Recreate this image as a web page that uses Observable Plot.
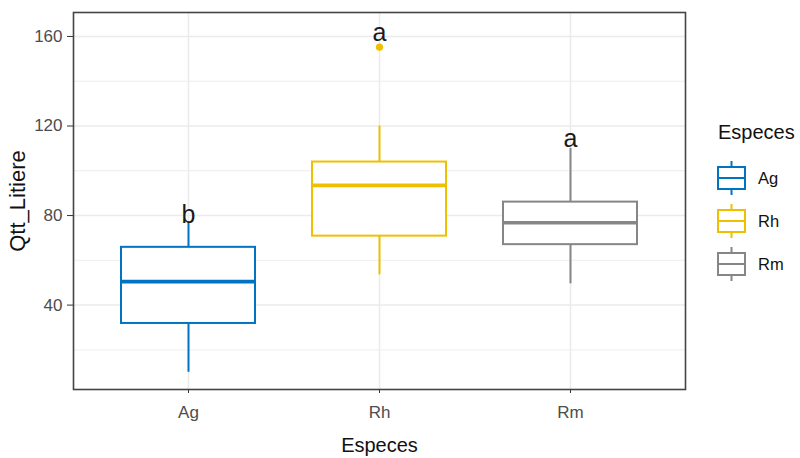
<!DOCTYPE html>
<html>
<head>
<meta charset="utf-8">
<script src="https://cdn.jsdelivr.net/npm/d3@7"></script>
<script src="https://cdn.jsdelivr.net/npm/@observablehq/plot@0.6"></script>
<style>
  html, body { margin: 0; padding: 0; background: #fff; }
  #wrap { position: relative; width: 800px; height: 458px; font-family: "Liberation Sans", Arial, sans-serif; }
  #legend { position: absolute; left: 0; top: 0; pointer-events: none; }
</style>
</head>
<body>
<div id="wrap"></div>
<script>
// ---- data ----
const species = ["Ag", "Rh", "Rm"];
const colors = ["#0073C2", "#EFC000", "#868686"];
const whiskerLow = [10, 53.5, 49.5];
const q1 = [31.8, 70.8, 67];
const median = [50.5, 93.5, 76.8];
const q3 = [65.8, 103.9, 86];
const whiskerHigh = [76.5, 120, 110];
const outlierSpecies = ["Rh"];
const outlierValues = [155.2];
const letters = ["b", "a", "a"];
const letterY = [76.5, 158, 110.5];
const yTicks = [40, 80, 120, 160];
const yMinorTicks = [20, 60, 100, 140];

const boxes = species.map((s, i) => ({
  s, low: whiskerLow[i], q1: q1[i], med: median[i], q3: q3[i], high: whiskerHigh[i],
  letter: letters[i], ly: letterY[i]
}));
const outliers = outlierSpecies.map((s, i) => ({s, v: outlierValues[i]}));

const chart = Plot.plot({
  width: 800,
  height: 458,
  marginLeft: 73,
  marginRight: 115,
  marginTop: 12,
  marginBottom: 69,
  style: {fontFamily: "'Liberation Sans', Arial, sans-serif", background: "white"},
  x: {domain: species, paddingInner: 0.3, paddingOuter: 0.25},
  y: {domain: [2.3, 170.7]},
  color: {domain: species, range: colors},
  marks: [
    Plot.gridY(yMinorTicks, {stroke: "#EBEBEB", strokeOpacity: 1, strokeWidth: 0.9}),
    Plot.gridY(yTicks, {stroke: "#EBEBEB", strokeOpacity: 1, strokeWidth: 1.5}),
    Plot.gridX(species, {stroke: "#EBEBEB", strokeOpacity: 1, strokeWidth: 1.5}),
    Plot.ruleX(boxes, {x: "s", y1: "low", y2: "high", stroke: "s", strokeWidth: 2}),
    Plot.barY(boxes, {x: "s", y1: "q1", y2: "q3", fill: "white", stroke: "s", strokeWidth: 2}),
    Plot.tickY(boxes, {x: "s", y: "med", stroke: "s", strokeWidth: 3.6}),
    Plot.dot(outliers, {x: "s", y: "v", fill: "s", r: 3.6, stroke: null}),
    Plot.text(boxes, {x: "s", y: "ly", text: "letter", fontSize: 25, fill: "#1a1a1a", lineAnchor: "bottom"}),
    Plot.axisY(yTicks, {tickSize: 6, tickPadding: 5, fontSize: 17, fill: "#4D4D4D", stroke: "#333",
      label: "Qtt_Litiere", labelAnchor: "center", labelArrow: "none", labelOffset: 64}),
    Plot.axisX(species, {tickSize: 4, tickPadding: 12, fontSize: 17, fill: "#4D4D4D", stroke: "#333",
      label: "Especes", labelAnchor: "center", labelArrow: "none", labelOffset: 62}),
    Plot.frame({stroke: "#444", strokeWidth: 1.6})
  ]
});

document.getElementById("wrap").appendChild(chart);

// axis titles black and larger, like ggplot
d3.select(chart).selectAll("g[aria-label]").each(function() {
  const name = this.getAttribute("aria-label") || "";
  if (name.includes("axis") && name.includes("label") && !name.includes("tick")) {
    const size = name.startsWith("y") ? "22px" : "20px";
    d3.select(this).attr("fill", "#111").style("font-size", size);
    d3.select(this).selectAll("text").attr("fill", "#111").style("font-size", size);
  }
});

// ---- legend (boxplot glyph keys) ----
const lg = d3.select("#wrap").append("svg")
  .attr("id", "legend").attr("width", 800).attr("height", 458);
lg.append("text").attr("x", 718).attr("y", 139)
  .attr("font-size", 20).attr("fill", "#111")
  .attr("font-family", "'Liberation Sans', Arial, sans-serif").text("Especes");
const keyX = 718, keyW = 27, keyTop = 178, keyStep = 43;
species.forEach((s, i) => {
  const cy = keyTop + keyStep * i, cx = keyX + keyW / 2;
  const g = lg.append("g").attr("stroke", colors[i]).attr("fill", "none").attr("stroke-width", 2);
  g.append("line").attr("x1", cx).attr("x2", cx).attr("y1", cy - 17).attr("y2", cy + 17);
  g.append("rect").attr("x", keyX).attr("y", cy - 11).attr("width", keyW).attr("height", 22).attr("fill", "white");
  g.append("line").attr("x1", keyX).attr("x2", keyX + keyW).attr("y1", cy).attr("y2", cy);
  lg.append("text").attr("x", 758).attr("y", cy).attr("dy", "0.35em")
    .attr("font-size", 16.5).attr("fill", "#111")
    .attr("font-family", "'Liberation Sans', Arial, sans-serif").text(s);
});
</script>
</body>
</html>
